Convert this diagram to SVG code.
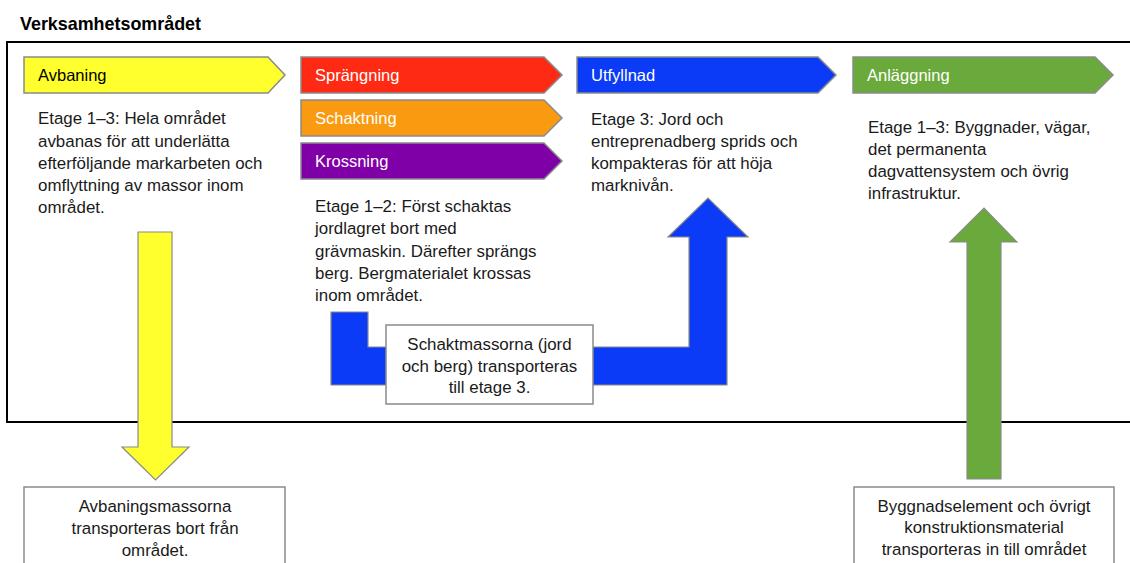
<svg xmlns="http://www.w3.org/2000/svg" width="1130" height="563" viewBox="0 0 1130 563">
<style>
text{font-family:"Liberation Sans",Arial,sans-serif;}
.title{font-size:17.9px;font-weight:bold;fill:#000;}
.lbl{font-size:16.5px;fill:#fff;}
.lbl.dark{fill:#000;}
.body{font-size:16.9px;fill:#1a1a1a;}
.mid{text-anchor:middle;}
.chev{stroke:#8a8a8a;stroke-width:1.5;}
.box{fill:#fff;stroke:#8a8a8a;stroke-width:1.5;}
.arr{stroke:#8a8a8a;stroke-width:1.2;}
</style>
<rect width="1130" height="563" fill="#fff"/>
<text class="title" x="20" y="30">Verksamhetsområdet</text>
<rect id="frame" x="7" y="42" width="1135" height="380" fill="none" stroke="#000" stroke-width="2"/>

<g id="connectors">
  <polygon class="arr" fill="#FFFF2E" points="138,232 172,232 172,447 189,447 155.5,480 122,447 138,447"/>
  <polygon class="arr" fill="#0B3BF7" stroke="none" points="331,312 368,312 368,347 689,347 689,237 668,237 708,198 748,237 727,237 727,385 331,385"/>
  <polygon class="arr" fill="#6AAA3C" points="967,479 967,242 950,242 984,208 1017,242 1001,242 1001,479"/>
</g>

<g id="avbaning">
  <polygon class="chev" fill="#FFFF2E" points="24,57 268,57 285,75 268,93 24,93"/>
  <text class="lbl dark" x="38" y="81">Avbaning</text>
  <text class="body" x="38" y="124">Etage 1–3: Hela området</text>
  <text class="body" x="38" y="146.5">avbanas för att underlätta</text>
  <text class="body" x="38" y="168.5">efterföljande markarbeten och</text>
  <text class="body" x="38" y="190.5">omflyttning av massor inom</text>
  <text class="body" x="38" y="212.5">området.</text>
</g>

<g id="sprangning">
  <polygon class="chev" fill="#FF2A14" points="301,57 544,57 562,75 544,93 301,93"/>
  <text class="lbl" x="315" y="81">Sprängning</text>
</g>
<g id="schaktning">
  <polygon class="chev" fill="#FA9A10" points="301,100 544,100 562,118 544,136 301,136"/>
  <text class="lbl" x="315" y="124">Schaktning</text>
</g>
<g id="krossning">
  <polygon class="chev" fill="#8000A8" points="301,143 544,143 562,161 544,179 301,179"/>
  <text class="lbl" x="315" y="167">Krossning</text>
  <text class="body" x="315" y="211.5">Etage 1–2: Först schaktas</text>
  <text class="body" x="315" y="234">jordlagret bort med</text>
  <text class="body" x="315" y="256.5">grävmaskin. Därefter sprängs</text>
  <text class="body" x="315" y="278.5">berg. Bergmaterialet krossas</text>
  <text class="body" x="315" y="300.5">inom området.</text>
</g>

<g id="utfyllnad">
  <polygon class="chev" fill="#0B3BF7" points="577,57 818,57 836,75 818,93 577,93"/>
  <text class="lbl" x="591" y="81">Utfyllnad</text>
  <text class="body" x="591" y="125">Etage 3: Jord och</text>
  <text class="body" x="591" y="147">entreprenadberg  sprids och</text>
  <text class="body" x="591" y="169">kompakteras för att höja</text>
  <text class="body" x="591" y="191">marknivån.</text>
</g>

<g id="anlaggning">
  <polygon class="chev" fill="#6AAA3C" points="853,57 1095,57 1113,75 1095,93 853,93"/>
  <text class="lbl" x="867" y="81">Anläggning</text>
  <text class="body" x="868" y="133">Etage 1–3: Byggnader, vägar,</text>
  <text class="body" x="868" y="155">det permanenta</text>
  <text class="body" x="868" y="177">dagvattensystem och övrig</text>
  <text class="body" x="868" y="199">infrastruktur.</text>
</g>

<g id="schaktmassorna">
  <rect class="box" x="386" y="325" width="207" height="79"/>
  <text class="body mid" x="489.5" y="350">Schaktmassorna (jord</text>
  <text class="body mid" x="489.5" y="372">och berg) transporteras</text>
  <text class="body mid" x="489.5" y="393">till etage 3.</text>
</g>

<g id="avbaningsmassorna">
  <rect class="box" x="24" y="487" width="261" height="90"/>
  <text class="body mid" x="155" y="512">Avbaningsmassorna</text>
  <text class="body mid" x="155" y="534">transporteras bort från</text>
  <text class="body mid" x="155" y="556">området.</text>
</g>

<g id="byggnadselement">
  <rect class="box" x="854" y="487" width="260" height="90"/>
  <text class="body mid" x="984" y="511.5">Byggnadselement och övrigt</text>
  <text class="body mid" x="984" y="533">konstruktionsmaterial</text>
  <text class="body mid" x="984" y="554.5">transporteras in till området</text>
</g>
</svg>
